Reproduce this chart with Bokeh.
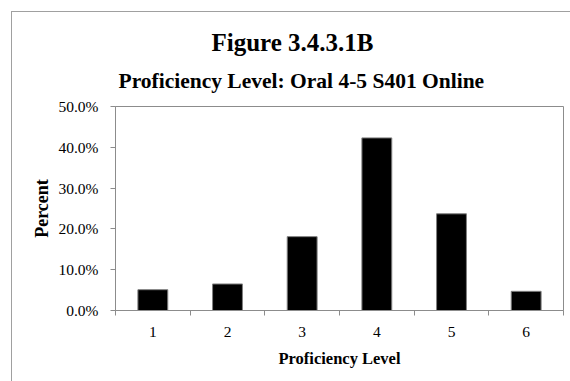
from bokeh.plotting import figure
from bokeh.models import FixedTicker, PrintfTickFormatter, Range1d, Title, ColumnDataSource
from bokeh.embed import file_html
from bokeh.resources import INLINE

# data
levels = [1, 2, 3, 4, 5, 6]
level_labels = ["1", "2", "3", "4", "5", "6"]
percents = [5.1, 6.5, 18.1, 42.3, 23.7, 4.7]
y_ticks = [0, 10, 20, 30, 40, 50]
title_line1 = "Figure 3.4.3.1B"
title_line2 = "Proficiency Level: Oral 4-5 S401 Online"
x_title = "Proficiency Level"
y_title = "Percent"

FONT = "Liberation Serif"
GRAY = "#8c8c8c"

p = figure(
    frame_width=448, frame_height=204,
    min_border_left=103, min_border_top=94, min_border_right=7, min_border_bottom=71,
    x_range=Range1d(0.5, 6.5), y_range=Range1d(0, 50),
    output_backend="svg", toolbar_location=None, title=None,
    styles={"margin-left": "11px", "margin-top": "11px",
            "border-left": "1px solid #a0a0a0", "border-top": "1px solid #a0a0a0"},
)
p.grid.visible = False
p.outline_line_color = GRAY
p.outline_line_width = 1
p.background_fill_color = "white"
p.border_fill_color = "white"

src = ColumnDataSource(dict(x=levels, top=percents))
p.vbar(x="x", top="top", width=0.4, bottom=0, source=src,
       fill_color="black", line_color="#7f7f7f", line_width=1)

# x axis
xa = p.xaxis[0]
xa.ticker = FixedTicker(ticks=levels, minor_ticks=[l - 0.5 for l in levels] + [levels[-1] + 0.5])
xa.major_label_overrides = {l: s for l, s in zip(levels, level_labels)}
xa.major_tick_out = 0
xa.major_tick_in = 0
xa.minor_tick_out = 5
xa.minor_tick_in = 0
xa.minor_tick_line_color = GRAY
xa.axis_line_color = GRAY
xa.major_label_text_font = FONT
xa.major_label_text_font_size = "15.5px"
xa.major_label_text_color = "black"
xa.major_label_standoff = 11
xa.axis_label = x_title
xa.axis_label_text_font = FONT
xa.axis_label_text_font_size = "16.5px"
xa.axis_label_text_font_style = "bold"
xa.axis_label_text_color = "black"
xa.axis_label_standoff = 9

# y axis
ya = p.yaxis[0]
ya.ticker = FixedTicker(ticks=y_ticks, minor_ticks=[])
ya.formatter = PrintfTickFormatter(format="%.1f%%")
ya.major_tick_out = 5
ya.major_tick_in = 0
ya.major_tick_line_color = GRAY
ya.axis_line_color = GRAY
ya.major_label_text_font = FONT
ya.major_label_text_font_size = "15.5px"
ya.major_label_text_color = "black"
ya.major_label_standoff = 12
ya.axis_label = y_title
ya.axis_label_text_font = FONT
ya.axis_label_text_font_size = "18px"
ya.axis_label_text_font_style = "bold"
ya.axis_label_text_color = "black"
ya.axis_label_standoff = 3

# titles
p.add_layout(Title(text=title_line2, align="left", offset=3,
                   text_font=FONT, text_font_size="21.5px", text_font_style="bold",
                   text_color="black", standoff=27), "above")
p.add_layout(Title(text=title_line1, align="left", offset=96,
                   text_font=FONT, text_font_size="25px", text_font_style="bold",
                   text_color="black", standoff=-5), "above")

open("out.html", "w").write(file_html(p, INLINE))
